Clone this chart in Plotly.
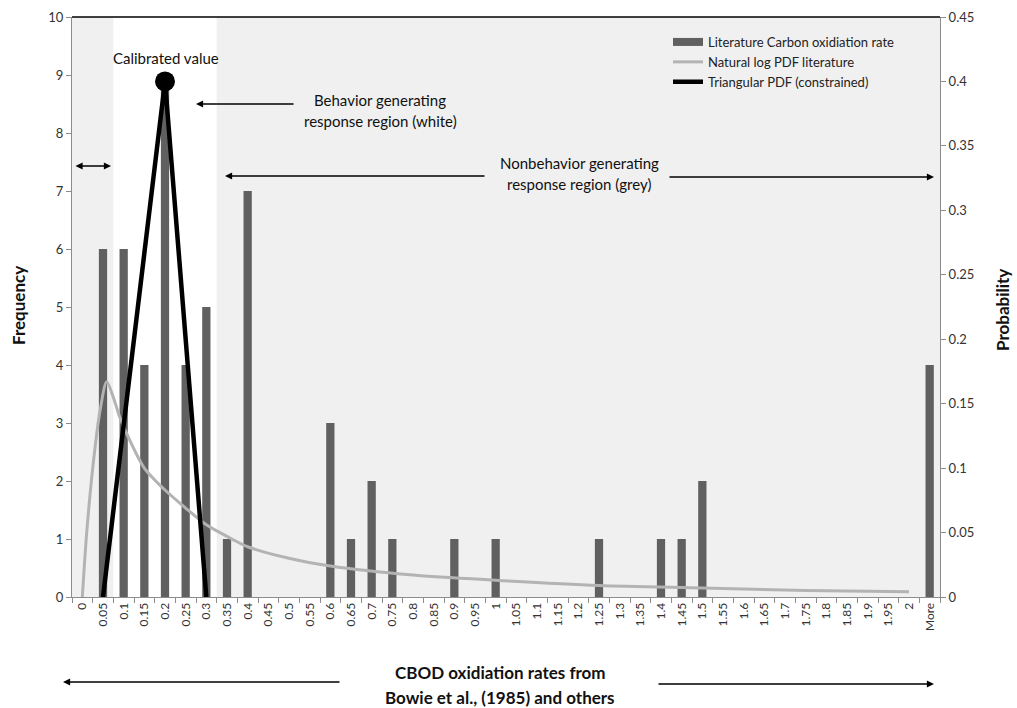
import plotly.graph_objects as go

# ---------------- data ----------------
categories = ["0", "0.05", "0.1", "0.15", "0.2", "0.25", "0.3", "0.35", "0.4", "0.45",
              "0.5", "0.55", "0.6", "0.65", "0.7", "0.75", "0.8", "0.85", "0.9", "0.95",
              "1", "1.05", "1.1", "1.15", "1.2", "1.25", "1.3", "1.35", "1.4", "1.45",
              "1.5", "1.55", "1.6", "1.65", "1.7", "1.75", "1.8", "1.85", "1.9", "1.95",
              "2", "More"]
frequency = [0, 6, 6, 4, 9, 4, 5, 1, 7, 0,
             0, 0, 3, 1, 2, 1, 0, 0, 1, 0,
             1, 0, 0, 0, 0, 1, 0, 0, 1, 1,
             2, 0, 0, 0, 0, 0, 0, 0, 0, 0,
             0, 4]

# natural-log PDF (rate value, probability)
lognorm_rate = [0.0, 0.0106, 0.0265, 0.043, 0.059, 0.075, 0.09, 0.1, 0.15, 0.2, 0.25,
                0.3, 0.35, 0.4, 0.5, 0.6, 0.8, 1.0, 1.25, 1.5, 1.75, 2.0]
lognorm_prob = [0.0, 0.05, 0.104, 0.145, 0.167, 0.155, 0.140, 0.132, 0.100, 0.083, 0.069,
                0.056, 0.047, 0.039, 0.030, 0.024, 0.017, 0.013, 0.009, 0.007, 0.005, 0.004]

# triangular PDF (constrained)
tri_rate = [0.05, 0.2, 0.3]
tri_prob = [0.0, 0.40, 0.0]

calibrated_rate = [0.2]
calibrated_prob = [0.40]

bin_width = 0.05
white_region = [0.1, 0.3]   # behaviour generating region (category values)

# ---------------- figure ----------------
FONT = "Lato, Carlito, Calibri, sans-serif"
W, H = 1017, 708
PL, PT, PW, PH = 72, 17, 868, 580  # plot area in page pixels
L, T = PL, PT
R, B = W - L - PW, H - T - PH

def px(x):
    return (x - PL) / PW

def py(y):
    return (PT + PH - y) / PH

xs = list(range(len(categories)))
fig = go.Figure()

fig.add_trace(go.Bar(x=xs, y=frequency, name="Literature Carbon oxidiation rate",
                     marker=dict(color="#606060", line=dict(width=0)), width=0.4,
                     yaxis="y", showlegend=False))
# legend entry for the bars (wide Excel-like swatch)
fig.add_trace(go.Scatter(x=[None], y=[None], mode="lines",
                         name="Literature Carbon oxidiation rate",
                         line=dict(color="#606060", width=8), yaxis="y"))

fig.add_trace(go.Scatter(x=[v / bin_width for v in lognorm_rate], y=lognorm_prob,
                         mode="lines", name="Natural log PDF literature",
                         line=dict(color="#b3b3b3", width=3, shape="spline", smoothing=0.8),
                         yaxis="y2"))

fig.add_trace(go.Scatter(x=[v / bin_width for v in tri_rate], y=tri_prob,
                         mode="lines", name="Triangular PDF (constrained)",
                         line=dict(color="black", width=4.5), yaxis="y2"))

fig.add_trace(go.Scatter(x=[v / bin_width for v in calibrated_rate], y=calibrated_prob,
                         mode="markers", showlegend=False,
                         marker=dict(color="black", size=20), yaxis="y2"))

shapes = [
    dict(type="rect", xref="x", yref="y domain",
         x0=white_region[0] / bin_width - 0.5, x1=white_region[1] / bin_width + 0.5,
         y0=0, y1=1, fillcolor="white", line=dict(width=0), layer="below"),
    dict(type="line", xref="paper", yref="paper", x0=0, x1=1, y0=1, y1=1,
         line=dict(color="black", width=1.5)),
]

ann = []
txt_font = dict(family=FONT, size=15, color="#111111")

def arrow(hx, hy, tx, ty, side="end"):
    ann.append(dict(xref="paper", yref="paper", x=px(hx), y=py(hy),
                    ax=tx - hx, ay=ty - hy, axref="pixel", ayref="pixel",
                    text="", showarrow=True, arrowhead=2, arrowsize=1.1,
                    arrowwidth=1.3, arrowcolor="black", arrowside=side))

arrow(196, 104, 295, 104)
arrow(225, 176, 486, 176)
arrow(934, 177, 668, 177)
arrow(63, 682, 341, 682)
arrow(934, 684, 657, 684)
arrow(111, 166, 74, 166, side="end+start")

def text(x, y, s, size=15, bold=False, angle=0):
    f = dict(txt_font)
    f["size"] = size
    if bold:
        s = "<b>" + s + "</b>"
    ann.append(dict(xref="paper", yref="paper", x=px(x), y=py(y), text=s,
                    showarrow=False, font=f, textangle=angle,
                    xanchor="center", yanchor="middle"))

text(166, 58, "Calibrated value", 15)
text(380, 100, "Behavior generating", 15)
text(380, 121, "response region (white)", 15)
text(579, 163, "Nonbehavior generating", 15)
text(579, 184, "response region (grey)", 15)
text(500, 672, "CBOD oxidiation rates from", 17, bold=True)
text(500, 697, "Bowie et al., (1985) and others", 17, bold=True)
text(18, 306, "Frequency", 17, bold=True, angle=-90)
text(1002, 310, "Probability", 17, bold=True, angle=-90)

fig.update_layout(
    width=W, height=H,
    margin=dict(l=L, r=R, t=T, b=B, autoexpand=False),
    paper_bgcolor="white",
    plot_bgcolor="#f0f0f0",
    font=dict(family=FONT, size=13, color="#333333"),
    showlegend=True,
    legend=dict(x=px(668), y=py(27), xanchor="left", yanchor="top",
                bgcolor="rgba(0,0,0,0)", font=dict(family=FONT, size=13, color="#222222"),
                tracegroupgap=0, itemwidth=30),
    bargap=0.6,
    shapes=shapes,
    annotations=ann,
    xaxis=dict(range=[-0.5, len(categories) - 0.5], tickmode="array", tickvals=xs,
               ticktext=categories, tickangle=-90, ticks="", showgrid=False,
               zeroline=False, showline=True, linecolor="#8c8c8c", linewidth=1,
               tickfont=dict(family=FONT, size=12, color="#333333"),
               minor=dict(tickmode="linear", tick0=-0.5, dtick=1, ticks="outside",
                          ticklen=5, tickcolor="#8c8c8c", showgrid=False)),
    yaxis=dict(range=[0, 10], dtick=1, ticks="outside", ticklen=5, tickcolor="#8c8c8c",
               showgrid=False, zeroline=False, showline=True, linecolor="#8c8c8c",
               tickfont=dict(family=FONT, size=13, color="#333333")),
    yaxis2=dict(range=[0, 0.45], dtick=0.05, overlaying="y", side="right",
                ticks="outside", ticklen=5, tickcolor="#8c8c8c", showgrid=False,
                zeroline=False, showline=True, linecolor="#8c8c8c",
                tickfont=dict(family=FONT, size=13, color="#333333")),
)

# remove the page's default body margin so the 1017x708 figure fills the window
fig.write_html("out.html",
               config={"displayModeBar": False},
               post_script="document.body.style.margin='0px';"
                           "document.body.style.overflow='hidden';")
